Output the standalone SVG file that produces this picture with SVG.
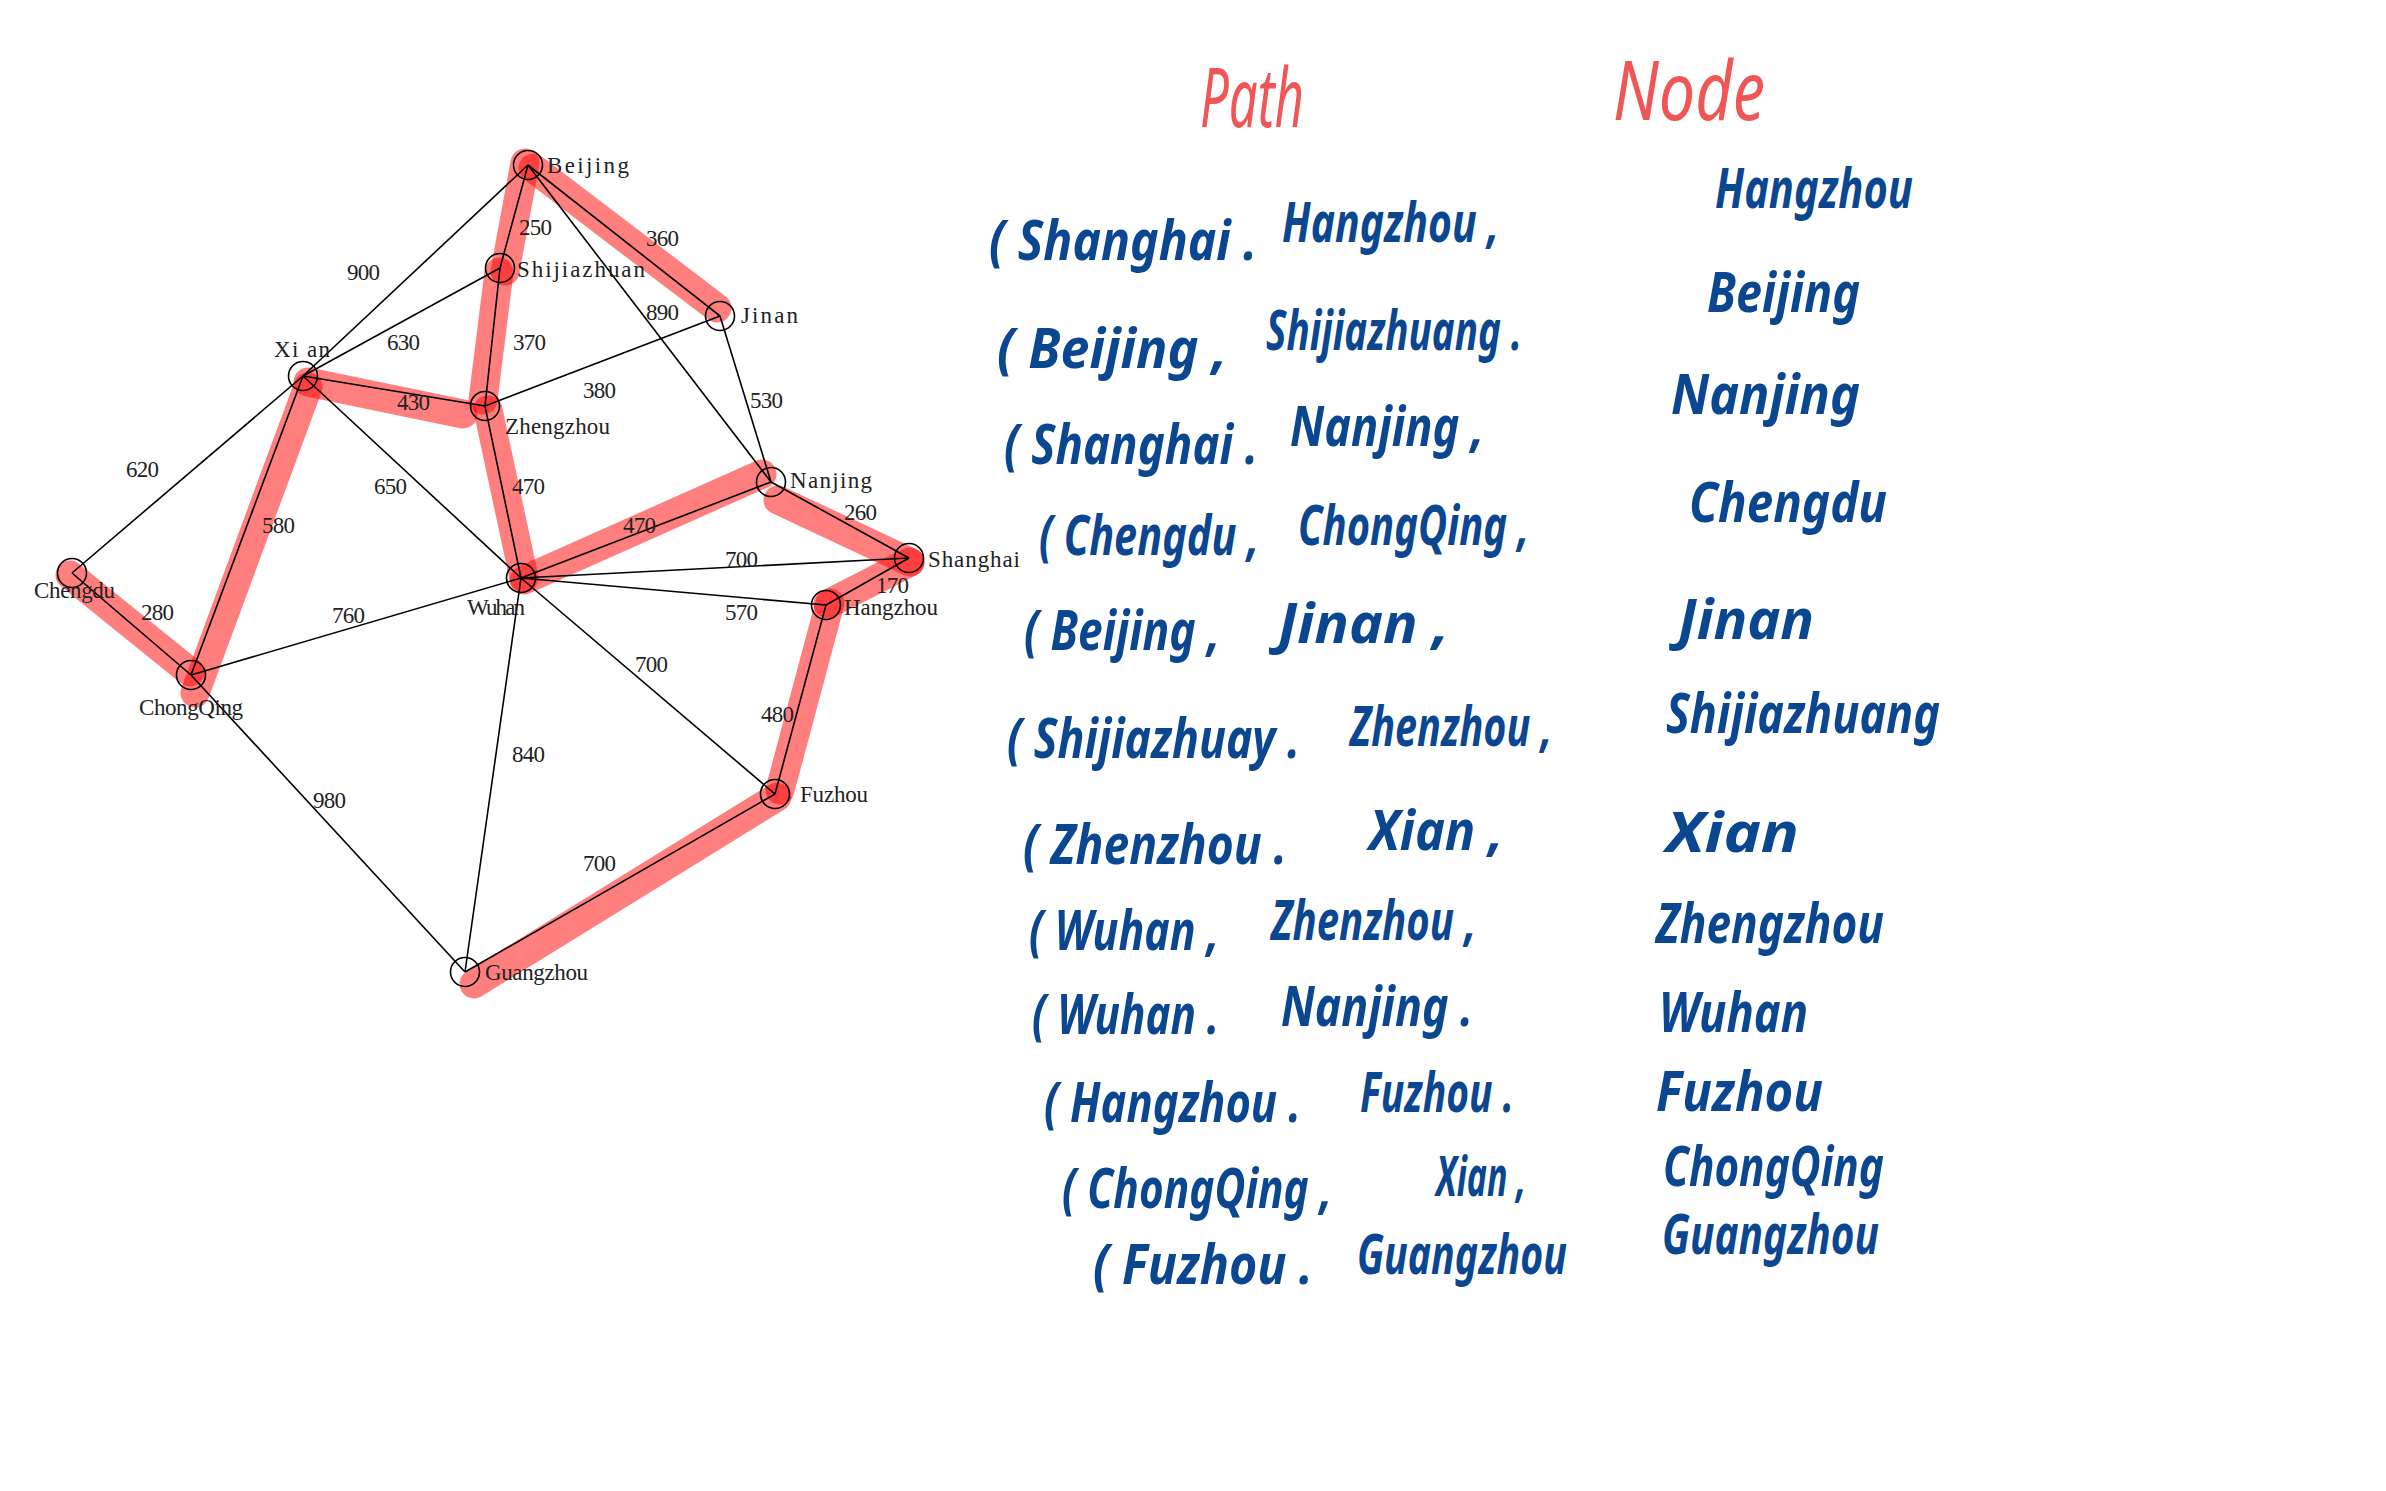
<svg xmlns="http://www.w3.org/2000/svg" width="2386" height="1491" viewBox="0 0 2386 1491">
<style>
.hl{stroke:#ff0000;stroke-opacity:0.5;stroke-width:29;stroke-linecap:round;fill:none}
.edge{stroke:#000;stroke-width:1.6;fill:none}
.nc{fill:none;stroke:#000;stroke-width:1.6}
.lbl{font-family:"Liberation Serif","DejaVu Serif",serif;font-size:23px;fill:#222}
.hw{font-family:"Noto Sans","DejaVu Sans",sans-serif;font-weight:700;font-style:italic;font-size:55px;fill:#0b4690}
.title{font-family:"Noto Sans","DejaVu Sans",sans-serif;font-weight:400;font-style:italic;font-size:82px;fill:#f05656}
</style>
<rect width="2386" height="1491" fill="#ffffff"/>

<g id="highlights">
<line class="hl" x1="525" y1="163" x2="505" y2="271"/>
<line class="hl" x1="499" y1="272" x2="483" y2="400"/>
<line class="hl" x1="533" y1="168" x2="717" y2="308"/>
<line class="hl" x1="308" y1="382" x2="463" y2="414"/>
<line class="hl" x1="488" y1="410" x2="524" y2="578"/>
<line class="hl" x1="524" y1="580" x2="762" y2="474"/>
<line class="hl" x1="778" y1="500" x2="910" y2="562"/>
<line class="hl" x1="910" y1="562" x2="828" y2="604"/>
<line class="hl" x1="830" y1="603" x2="780" y2="790"/>
<line class="hl" x1="777" y1="797" x2="474" y2="984"/>
<line class="hl" x1="308" y1="387" x2="195" y2="693"/>
<line class="hl" x1="70" y1="575" x2="190" y2="672"/>
</g>

<g id="connectors">
<line class="edge" x1="528" y1="165" x2="500" y2="268"/>
<line class="edge" x1="528" y1="165" x2="720" y2="316"/>
<line class="edge" x1="528" y1="165" x2="303" y2="376"/>
<line class="edge" x1="528" y1="165" x2="771" y2="482"/>
<line class="edge" x1="500" y1="268" x2="303" y2="376"/>
<line class="edge" x1="500" y1="268" x2="485" y2="406"/>
<line class="edge" x1="720" y1="316" x2="485" y2="406"/>
<line class="edge" x1="720" y1="316" x2="771" y2="482"/>
<line class="edge" x1="303" y1="376" x2="485" y2="406"/>
<line class="edge" x1="303" y1="376" x2="72" y2="573"/>
<line class="edge" x1="303" y1="376" x2="191" y2="675"/>
<line class="edge" x1="303" y1="376" x2="521" y2="578"/>
<line class="edge" x1="485" y1="406" x2="521" y2="578"/>
<line class="edge" x1="72" y1="573" x2="191" y2="675"/>
<line class="edge" x1="191" y1="675" x2="521" y2="578"/>
<line class="edge" x1="191" y1="675" x2="465" y2="972"/>
<line class="edge" x1="521" y1="578" x2="771" y2="482"/>
<line class="edge" x1="521" y1="578" x2="909" y2="558"/>
<line class="edge" x1="521" y1="578" x2="826" y2="605"/>
<line class="edge" x1="521" y1="578" x2="775" y2="794"/>
<line class="edge" x1="521" y1="578" x2="465" y2="972"/>
<line class="edge" x1="771" y1="482" x2="909" y2="558"/>
<line class="edge" x1="909" y1="558" x2="826" y2="605"/>
<line class="edge" x1="826" y1="605" x2="775" y2="794"/>
<line class="edge" x1="775" y1="794" x2="465" y2="972"/>
</g>

<g id="edge-labels" class="lbl">
<text x="519" y="235" textLength="33">250</text>
<text x="646" y="246" textLength="33">360</text>
<text x="347" y="280" textLength="33">900</text>
<text x="646" y="320" textLength="33">890</text>
<text x="387" y="350" textLength="33">630</text>
<text x="513" y="350" textLength="33">370</text>
<text x="583" y="398" textLength="33">380</text>
<text x="397" y="410" textLength="33">430</text>
<text x="750" y="408" textLength="33">530</text>
<text x="126" y="477" textLength="33">620</text>
<text x="374" y="494" textLength="33">650</text>
<text x="262" y="533" textLength="33">580</text>
<text x="141" y="620" textLength="33">280</text>
<text x="332" y="623" textLength="33">760</text>
<text x="512" y="494" textLength="33">470</text>
<text x="623" y="533" textLength="33">470</text>
<text x="844" y="520" textLength="33">260</text>
<text x="725" y="567" textLength="33">700</text>
<text x="876" y="593" textLength="33">170</text>
<text x="725" y="620" textLength="33">570</text>
<text x="635" y="672" textLength="33">700</text>
<text x="761" y="722" textLength="33">480</text>
<text x="512" y="762" textLength="33">840</text>
<text x="313" y="808" textLength="33">980</text>
<text x="583" y="871" textLength="33">700</text>
</g>

<g id="node-beijing"><circle class="nc" cx="528" cy="165" r="14.5"/><text class="lbl" x="547" y="173" textLength="82">Beijing</text></g>
<g id="node-shijiazhuan"><circle class="nc" cx="500" cy="268" r="14.5"/><text class="lbl" x="517" y="277" textLength="128">Shijiazhuan</text></g>
<g id="node-jinan"><circle class="nc" cx="720" cy="316" r="14.5"/><text class="lbl" x="741" y="323" textLength="57">Jinan</text></g>
<g id="node-xian"><circle class="nc" cx="303" cy="376" r="14.5"/><text class="lbl" x="274" y="357" textLength="56">Xi an</text></g>
<g id="node-zhengzhou"><circle class="nc" cx="485" cy="406" r="14.5"/><text class="lbl" x="505" y="434" textLength="105">Zhengzhou</text></g>
<g id="node-nanjing"><circle class="nc" cx="771" cy="482" r="14.5"/><text class="lbl" x="790" y="488" textLength="82">Nanjing</text></g>
<g id="node-shanghai"><circle class="nc" cx="909" cy="558" r="14.5"/><text class="lbl" x="928" y="567" textLength="92">Shanghai</text></g>
<g id="node-hangzhou"><circle class="nc" cx="826" cy="605" r="14.5"/><text class="lbl" x="844" y="615" textLength="94">Hangzhou</text></g>
<g id="node-chengdu"><circle class="nc" cx="72" cy="573" r="14.5"/><text class="lbl" x="34" y="598" textLength="81">Chengdu</text></g>
<g id="node-chongqing"><circle class="nc" cx="191" cy="675" r="14.5"/><text class="lbl" x="139" y="715" textLength="104">ChongQing</text></g>
<g id="node-wuhan"><circle class="nc" cx="521" cy="578" r="14.5"/><text class="lbl" x="467" y="615" textLength="58">Wuhan</text></g>
<g id="node-fuzhou"><circle class="nc" cx="775" cy="794" r="14.5"/><text class="lbl" x="800" y="802" textLength="68">Fuzhou</text></g>
<g id="node-guangzhou"><circle class="nc" cx="465" cy="972" r="14.5"/><text class="lbl" x="485" y="980" textLength="103">Guangzhou</text></g>

<g id="titles">
<text class="title" x="1200" y="127" textLength="104" lengthAdjust="spacingAndGlyphs">Path</text>
<text class="title" x="1613" y="120" textLength="152" lengthAdjust="spacingAndGlyphs">Node</text>
</g>

<g id="path-list" class="hw">
<g id="path-1"><text x="989" y="260" textLength="268" lengthAdjust="spacingAndGlyphs">( Shanghai .</text><text x="1282" y="242" textLength="217" lengthAdjust="spacingAndGlyphs">Hangzhou ,</text></g>
<g id="path-2"><text x="997" y="368" textLength="230" lengthAdjust="spacingAndGlyphs">( Beijing ,</text><text x="1266" y="350" textLength="256" lengthAdjust="spacingAndGlyphs">Shijiazhuang .</text></g>
<g id="path-3"><text x="1004" y="464" textLength="254" lengthAdjust="spacingAndGlyphs">( Shanghai .</text><text x="1290" y="446" textLength="194" lengthAdjust="spacingAndGlyphs">Nanjing ,</text></g>
<g id="path-4"><text x="1039" y="555" textLength="220" lengthAdjust="spacingAndGlyphs">( Chengdu ,</text><text x="1298" y="545" textLength="231" lengthAdjust="spacingAndGlyphs">ChongQing ,</text></g>
<g id="path-5"><text x="1024" y="650" textLength="196" lengthAdjust="spacingAndGlyphs">( Beijing ,</text><text x="1278" y="643" textLength="171" lengthAdjust="spacingAndGlyphs">Jinan ,</text></g>
<g id="path-6"><text x="1007" y="758" textLength="293" lengthAdjust="spacingAndGlyphs">( Shijiazhuay .</text><text x="1350" y="746" textLength="202" lengthAdjust="spacingAndGlyphs">Zhenzhou ,</text></g>
<g id="path-7"><text x="1023" y="864" textLength="264" lengthAdjust="spacingAndGlyphs">( Zhenzhou .</text><text x="1369" y="850" textLength="134" lengthAdjust="spacingAndGlyphs">Xian ,</text></g>
<g id="path-8"><text x="1029" y="950" textLength="190" lengthAdjust="spacingAndGlyphs">( Wuhan ,</text><text x="1271" y="940" textLength="205" lengthAdjust="spacingAndGlyphs">Zhenzhou ,</text></g>
<g id="path-9"><text x="1032" y="1034" textLength="187" lengthAdjust="spacingAndGlyphs">( Wuhan .</text><text x="1281" y="1026" textLength="192" lengthAdjust="spacingAndGlyphs">Nanjing .</text></g>
<g id="path-10"><text x="1044" y="1122" textLength="257" lengthAdjust="spacingAndGlyphs">( Hangzhou .</text><text x="1360" y="1112" textLength="154" lengthAdjust="spacingAndGlyphs">Fuzhou .</text></g>
<g id="path-11"><text x="1062" y="1208" textLength="270" lengthAdjust="spacingAndGlyphs">( ChongQing ,</text><text x="1436" y="1196" textLength="90" lengthAdjust="spacingAndGlyphs">Xian ,</text></g>
<g id="path-12"><text x="1093" y="1284" textLength="220" lengthAdjust="spacingAndGlyphs">( Fuzhou .</text><text x="1357" y="1274" textLength="210" lengthAdjust="spacingAndGlyphs">Guangzhou</text></g>
</g>

<g id="node-list" class="hw">
<text x="1715" y="208" textLength="198" lengthAdjust="spacingAndGlyphs">Hangzhou</text>
<text x="1707" y="312" textLength="153" lengthAdjust="spacingAndGlyphs">Beijing</text>
<text x="1671" y="414" textLength="189" lengthAdjust="spacingAndGlyphs">Nanjing</text>
<text x="1689" y="522" textLength="198" lengthAdjust="spacingAndGlyphs">Chengdu</text>
<text x="1678" y="639" textLength="136" lengthAdjust="spacingAndGlyphs">Jinan</text>
<text x="1666" y="733" textLength="274" lengthAdjust="spacingAndGlyphs">Shijiazhuang</text>
<text x="1666" y="852" textLength="133" lengthAdjust="spacingAndGlyphs">Xian</text>
<text x="1656" y="943" textLength="228" lengthAdjust="spacingAndGlyphs">Zhengzhou</text>
<text x="1659" y="1032" textLength="149" lengthAdjust="spacingAndGlyphs">Wuhan</text>
<text x="1656" y="1111" textLength="167" lengthAdjust="spacingAndGlyphs">Fuzhou</text>
<text x="1663" y="1186" textLength="221" lengthAdjust="spacingAndGlyphs">ChongQing</text>
<text x="1662" y="1254" textLength="217" lengthAdjust="spacingAndGlyphs">Guangzhou</text>
</g>
</svg>
